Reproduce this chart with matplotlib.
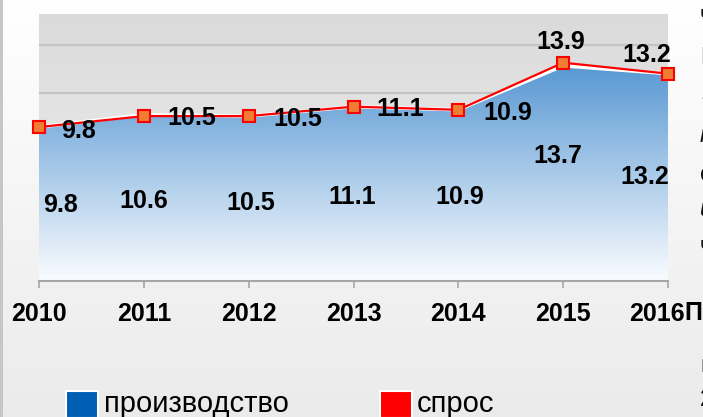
import numpy as np
import matplotlib
matplotlib.use("Agg")
import matplotlib.pyplot as plt
from matplotlib.patches import Rectangle
from matplotlib.transforms import ScaledTranslation

plt.rcParams['font.family'] = ['Liberation Sans', 'DejaVu Sans']

# data
years = ["2010", "2011", "2012", "2013", "2014", "2015", "2016"]
proizvodstvo = [9.8, 10.6, 10.5, 11.1, 10.9, 13.7, 13.2]
spros = [9.8, 10.5, 10.5, 11.1, 10.9, 13.9, 13.2]

# label offsets in pixels (tuned by eye)
spros_off = [(40, -4), (48, -2), (49, -3), (47, -2), (49, -3), (-2, 21), (-21, 19)]
prod_off = [(21, -1), (0, -3), (2, -4), (-1, -3), (1, -2), (-5, 17), (-23, 0)]

W, H = 703, 417
fig = plt.figure(figsize=(W / 100, H / 100), dpi=100)

# figure background: white -> light grey
bg = fig.add_axes([0, 0, 1, 1], zorder=-10)
g = np.linspace(1.0, 0.92, 256)[:, None]
bg.imshow(np.dstack([g, g, g]), aspect="auto", extent=[0, 1, 0, 1])
bg.set_axis_off()
fig.patches.append(Rectangle((0, 0), 3 / W, 1, transform=fig.transFigure,
                             facecolor="#c6c6c6", edgecolor="none"))

ax = fig.add_axes([39 / W, 136 / H, 629 / W, 267 / H])
x = np.arange(len(years))
ymax = 17
ax.set_xlim(0, 6)
ax.set_ylim(0, ymax)

# plot area background
g2 = np.linspace(0.855, 0.95, 256)[:, None]
ax.imshow(np.dstack([g2, g2, g2]), aspect="auto", extent=[0, 6, 0, ymax],
          origin="upper", zorder=0)

ax.set_yticks(np.arange(0, 16, 3))
ax.set_axisbelow(True)
ax.grid(axis="y", color="#c4c4c4", linewidth=1.6)
ax.tick_params(axis="y", length=0, labelleft=False)

# area with vertical blue gradient
poly = ax.fill_between(x, proizvodstvo, 0, facecolor="none", edgecolor="none")
top = np.array([0x55, 0x96, 0xd2]) / 255
bot = np.array([0xfa, 0xfc, 0xff]) / 255
t = np.linspace(0, 1, 256)[:, None]
grad = bot + (top - bot) * t
grad = np.clip(grad[:, None, :], 0, 1)
im = ax.imshow(grad, aspect="auto", extent=[0, 6, 0, 14], origin="lower", zorder=2)
im.set_clip_path(poly.get_paths()[0], transform=ax.transData)
ax.plot(x, proizvodstvo, color="white", linewidth=2.5, zorder=3)

ax.plot(x, spros, color="#ff0000", linewidth=1.6, marker="s", markersize=8.5,
        markerfacecolor="#f07d32", markeredgecolor="#ff0000", markeredgewidth=1.5,
        zorder=4, clip_on=False)

for i, v in enumerate(spros):
    ax.annotate(f"{v}", (x[i], v), xytext=spros_off[i], textcoords="offset pixels",
                ha="center", va="center", fontsize=18, fontweight="bold", zorder=5)
for i, v in enumerate(proizvodstvo):
    ax.annotate(f"{v}", (x[i], v / 2), xytext=prod_off[i], textcoords="offset pixels",
                ha="center", va="center", fontsize=18, fontweight="bold", zorder=5)

for s in ["top", "left", "right"]:
    ax.spines[s].set_visible(False)
ax.spines["bottom"].set_color("#a6a6a6")
ax.spines["bottom"].set_linewidth(1.5)
ax.set_xticks(x)
ax.set_xticklabels(years, fontsize=18, fontweight="bold")
ax.tick_params(axis="x", length=5, width=1.2, color="#a6a6a6", pad=10)
lbl = ax.get_xticklabels()[-1]
lbl.set_transform(lbl.get_transform() + ScaledTranslation(-0.11, 0, fig.dpi_scale_trans))

# legend
fig.patches.append(Rectangle((66 / W, (H - 418) / H), 32 / W, 27 / H, transform=fig.transFigure,
                             facecolor="#005fb4", edgecolor="white", linewidth=1.5))
fig.text(104 / W, (H - 404) / H, "производство", fontsize=21, va="center")
fig.patches.append(Rectangle((380 / W, (H - 418) / H), 32 / W, 27 / H, transform=fig.transFigure,
                             facecolor="#ff0000", edgecolor="white", linewidth=1.5))
fig.text(417 / W, (H - 404) / H, "спрос", fontsize=21, va="center")

# cut-off text of the surrounding page at the right edge
fig.text(684 / W, (H - 313) / H, "П", fontsize=18, fontweight="bold", va="center")
frag_y = [16, 58, 93, 135, 175, 210, 247, 366, 400]
frag_ch = ["ч", "П", "1", "м", "с", "и", "ч", "п", "2"]
frag_it = [False, False, False, True, False, True, False, False, False]
for yy, ch, it in zip(frag_y, frag_ch, frag_it):
    fig.text(700 / W, (H - yy) / H, ch, fontsize=17, va="center",
             style="italic" if it else "normal", color="#111111")

fig.savefig("out.png", dpi=100)
